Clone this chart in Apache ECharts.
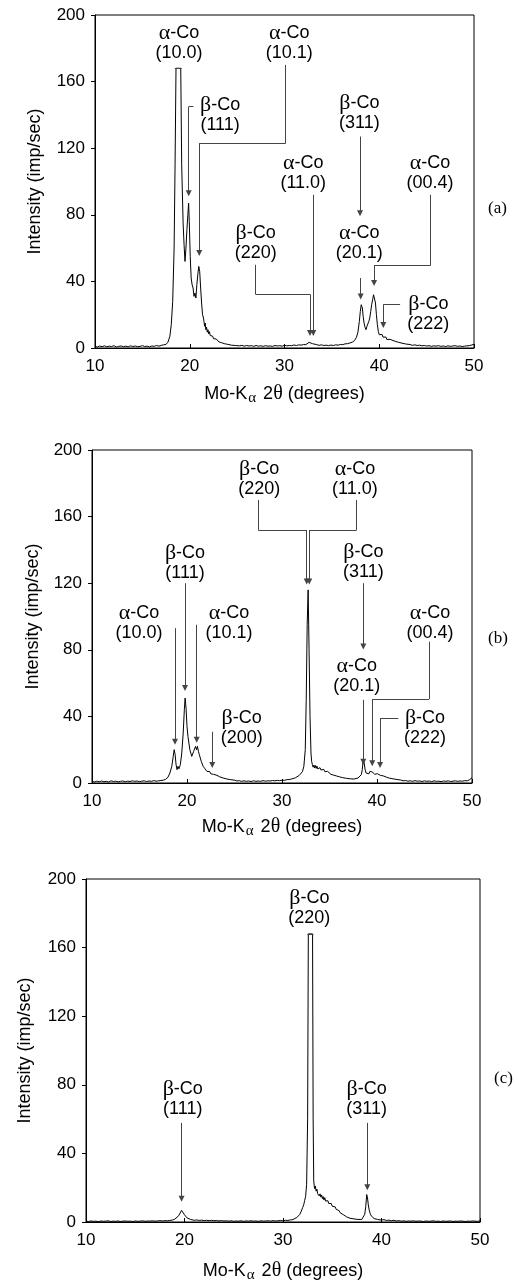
<!DOCTYPE html>
<html lang="en">

<head>
    <meta charset="UTF-8">
    <title>Co XRD patterns (a), (b), (c)</title>
    <script src="https://cdn.jsdelivr.net/npm/echarts@6.0.0/dist/echarts.min.js"></script>
    <style>
        html, body { margin: 0; padding: 0; background: #ffffff; }
        #chart { width: 519px; height: 1284px; }
    </style>
</head>

<body>
    <div id="chart"></div>

    <script>
        // ---- data: [2θ (deg), intensity (imp/sec)] ----
        // panel (a)
        const scanA = [
            [10, 1.0], [10.25, 0.6], [10.5, 1.2], [10.75, 0.8], [11, 1.3], [11.25, 0.7], [11.5, 1.1], [11.75, 0.9],
            [12, 1.4], [12.25, 0.6], [12.5, 1.0], [12.75, 1.2], [13, 0.8], [13.25, 1.1], [13.5, 0.7], [13.75, 1.3],
            [14, 0.9], [14.25, 1.2], [14.5, 0.8], [14.75, 1.0], [15, 1.4], [15.25, 0.9], [15.5, 1.1], [15.75, 0.7],
            [16, 1.2], [16.25, 1.0], [16.5, 1.5], [16.75, 1.1], [17, 1.6], [17.25, 1.9], [17.5, 2.2], [17.7, 3.5],
            [17.9, 7], [18.05, 14], [18.2, 28], [18.35, 60], [18.45, 110], [18.55, 168], [19.05, 168], [19.15, 110],
            [19.3, 75], [19.4, 62], [19.5, 52], [19.6, 60], [19.7, 71], [19.8, 80], [19.88, 87], [19.95, 76],
            [20.05, 55], [20.15, 42], [20.25, 38], [20.35, 36], [20.45, 31], [20.55, 33], [20.65, 30], [20.75, 38],
            [20.85, 44], [20.95, 49], [21.05, 46], [21.15, 36], [21.25, 27], [21.35, 20], [21.45, 18], [21.5, 16],
            [21.57, 13], [21.63, 15], [21.7, 11], [21.77, 12.5], [21.85, 9.5], [21.92, 11], [22.0, 8.5], [22.08, 9.8],
            [22.16, 7.5], [22.25, 8.2], [22.33, 6.4], [22.42, 7.1], [22.5, 5.6], [22.6, 6.3], [22.7, 4.8], [22.8, 5.4],
            [22.9, 4.2], [23.0, 4.6], [23.1, 3.6], [23.2, 4.1], [23.35, 3.2], [23.5, 3.5], [23.65, 2.6], [23.8, 3.0],
            [24.0, 2.2], [24.2, 2.5], [24.4, 1.7], [24.6, 2.0], [24.8, 1.5], [25.0, 1.7], [25.25, 1.3], [25.5, 1.6],
            [25.75, 1.1], [26, 1.5], [26.25, 1.2], [26.5, 1.4], [26.75, 1.0], [27, 1.5], [27.25, 1.1], [27.5, 1.3],
            [27.75, 1.0], [28, 1.4], [28.25, 1.1], [28.5, 1.2], [28.75, 1.0], [29, 1.5], [29.25, 1.2], [29.5, 1.4],
            [29.75, 1.1], [30, 1.6], [30.25, 1.3], [30.5, 1.5], [30.75, 1.4], [31, 1.8], [31.25, 1.5], [31.5, 1.9],
            [31.75, 1.7], [32, 2.1], [32.25, 2.0], [32.45, 2.8], [32.6, 3.4], [32.7, 4.2], [32.8, 3.2], [32.95, 2.6],
            [33.15, 2.2], [33.4, 2.0], [33.65, 1.6], [33.9, 1.9], [34.15, 1.5], [34.4, 1.7], [34.65, 1.4], [34.9, 1.8],
            [35.15, 1.5], [35.4, 1.9], [35.65, 1.7], [35.9, 2.1], [36.15, 2.0], [36.4, 2.5], [36.65, 2.6], [36.9, 3.0],
            [37.15, 3.5], [37.4, 4.5], [37.6, 6.5], [37.75, 9.5], [37.9, 16], [38.0, 22], [38.1, 26], [38.15, 27],
            [38.22, 24], [38.3, 19], [38.4, 15], [38.5, 12.5], [38.6, 11], [38.7, 13], [38.8, 12], [38.9, 16],
            [39.0, 18], [39.1, 22], [39.2, 26], [39.3, 29], [39.4, 32], [39.45, 33], [39.52, 31], [39.6, 27],
            [39.7, 20], [39.8, 14], [39.9, 10], [40.0, 8], [40.1, 9], [40.2, 7.2], [40.3, 8.1], [40.4, 6.5],
            [40.5, 7.3], [40.6, 5.8], [40.7, 6.6], [40.8, 5.1], [40.9, 5.8], [41.0, 4.6], [41.15, 5.2], [41.3, 4.0],
            [41.45, 4.5], [41.6, 3.5], [41.75, 3.9], [41.9, 3.0], [42.05, 3.4], [42.2, 2.6], [42.4, 2.9], [42.6, 2.2],
            [42.8, 2.4], [43.0, 1.8], [43.25, 2.1], [43.5, 1.6], [43.75, 1.9], [44, 1.5], [44.25, 1.7], [44.5, 1.3],
            [44.75, 1.5], [45, 1.2], [45.25, 1.4], [45.5, 1.0], [45.75, 1.3], [46, 1.1], [46.25, 1.4], [46.5, 1.0],
            [46.75, 1.2], [47, 0.9], [47.25, 1.3], [47.5, 1.0], [47.75, 1.2], [48, 1.4], [48.25, 1.0], [48.5, 1.2],
            [48.75, 0.9], [49, 1.1], [49.25, 1.3], [49.5, 1.4], [49.75, 1.8], [50, 2.2]
        ];

        // panel (b)
        const scanB = [
            [10, 1.0], [10.25, 0.6], [10.5, 1.1], [10.75, 0.7], [11, 1.2], [11.25, 0.8], [11.5, 1.0], [11.75, 0.6],
            [12, 1.3], [12.25, 0.9], [12.5, 1.1], [12.75, 0.7], [13, 1.0], [13.25, 1.2], [13.5, 0.8], [13.75, 1.1],
            [14, 0.9], [14.25, 1.3], [14.5, 1.0], [14.75, 1.2], [15, 0.8], [15.25, 1.1], [15.5, 1.3], [15.75, 0.9],
            [16, 1.2], [16.25, 1.0], [16.5, 1.4], [16.75, 1.1], [17, 1.3], [17.25, 1.5], [17.5, 1.7], [17.75, 2.2],
            [18.0, 3.5], [18.2, 6], [18.4, 10], [18.55, 16], [18.65, 20], [18.75, 17], [18.85, 11], [18.95, 8],
            [19.05, 10], [19.15, 8.5], [19.3, 11], [19.45, 18], [19.6, 30], [19.72, 44], [19.8, 51], [19.9, 45],
            [20.0, 34], [20.1, 28], [20.2, 24], [20.3, 20], [20.4, 18], [20.5, 16], [20.6, 17], [20.7, 19],
            [20.8, 20], [20.9, 22], [21.0, 20], [21.1, 22], [21.2, 19], [21.3, 17], [21.4, 15], [21.5, 13],
            [21.6, 12], [21.7, 10], [21.8, 11], [21.9, 8.5], [22.0, 9], [22.1, 7], [22.2, 8], [22.3, 6.2],
            [22.4, 6.8], [22.5, 5.5], [22.6, 5.8], [22.7, 6.4], [22.8, 5.2], [22.9, 5.8], [23.0, 4.3], [23.15, 4.6],
            [23.3, 3.4], [23.45, 3.7], [23.6, 2.8], [23.8, 3.0], [24.0, 2.2], [24.2, 2.4], [24.4, 1.7], [24.6, 2.0],
            [24.8, 1.5], [25.0, 1.7], [25.25, 1.2], [25.5, 1.4], [25.75, 1.0], [26, 1.3], [26.25, 1.0], [26.5, 1.2],
            [26.75, 0.9], [27, 1.3], [27.25, 1.0], [27.5, 1.2], [27.75, 1.0], [28, 1.4], [28.25, 1.1], [28.5, 1.3],
            [28.75, 1.2], [29, 1.5], [29.25, 1.3], [29.5, 1.6], [29.75, 1.4], [30, 1.7], [30.25, 1.6], [30.5, 2.0],
            [30.75, 2.1], [31, 2.4], [31.2, 2.8], [31.4, 3.1], [31.6, 3.8], [31.8, 4.5], [32.0, 5.4], [32.15, 6.8],
            [32.3, 10], [32.45, 20], [32.55, 50], [32.65, 95], [32.75, 116], [32.85, 80], [32.95, 40], [33.05, 18],
            [33.12, 13], [33.2, 11], [33.28, 9.5], [33.36, 10.8], [33.44, 9], [33.52, 10.5], [33.6, 8.8], [33.68, 10.2],
            [33.76, 8.5], [33.84, 9.6], [33.92, 8], [34.0, 9.2], [34.1, 7.8], [34.2, 8.7], [34.3, 7.2], [34.4, 8.2],
            [34.5, 6.8], [34.6, 7.6], [34.7, 6.4], [34.8, 7.0], [34.9, 5.8], [35.0, 6.5], [35.15, 5.2], [35.3, 5.8],
            [35.45, 4.7], [35.6, 5.2], [35.75, 4.2], [35.9, 4.6], [36.05, 3.7], [36.2, 4.0], [36.4, 3.2], [36.6, 3.5],
            [36.8, 2.8], [37.0, 3.0], [37.2, 2.5], [37.4, 2.7], [37.6, 2.4], [37.8, 2.8], [38.0, 3.0], [38.2, 3.6],
            [38.35, 5], [38.45, 8], [38.55, 14], [38.65, 12], [38.75, 8], [38.85, 6], [38.95, 5], [39.05, 6.2],
            [39.15, 5.5], [39.25, 7.0], [39.35, 6.4], [39.45, 7.5], [39.55, 6.5], [39.65, 6.8], [39.75, 5.2], [39.85, 5.8],
            [39.95, 4.8], [40.05, 5.6], [40.15, 5.0], [40.25, 5.6], [40.35, 4.6], [40.45, 4.9], [40.55, 3.8], [40.7, 4.2],
            [40.85, 3.2], [41.0, 3.5], [41.15, 2.6], [41.3, 2.9], [41.5, 2.2], [41.7, 2.5], [41.9, 1.8], [42.1, 2.1],
            [42.3, 1.5], [42.5, 1.8], [42.75, 1.3], [43, 1.5], [43.25, 1.1], [43.5, 1.3], [43.75, 1.0], [44, 1.4],
            [44.25, 1.1], [44.5, 1.2], [44.75, 0.9], [45, 1.3], [45.25, 1.0], [45.5, 1.2], [45.75, 0.8], [46, 1.3],
            [46.25, 1.0], [46.5, 1.1], [46.75, 0.8], [47, 1.2], [47.25, 1.0], [47.5, 1.3], [47.75, 0.9], [48, 1.1],
            [48.25, 1.3], [48.5, 1.0], [48.75, 1.2], [49, 1.1], [49.25, 1.4], [49.5, 1.3], [49.75, 2.0], [50, 3.2]
        ];

        // panel (c)
        const scanC = [
            [10, 0.5], [10.25, 0.3], [10.5, 0.6], [10.75, 0.4], [11, 0.5], [11.25, 0.2], [11.5, 0.6], [11.75, 0.4],
            [12, 0.5], [12.25, 0.7], [12.5, 0.3], [12.75, 0.5], [13, 0.4], [13.25, 0.6], [13.5, 0.3], [13.75, 0.5],
            [14, 0.6], [14.25, 0.4], [14.5, 0.5], [14.75, 0.3], [15, 0.6], [15.25, 0.4], [15.5, 0.5], [15.75, 0.7],
            [16, 0.4], [16.25, 0.6], [16.5, 0.5], [16.75, 0.7], [17, 0.5], [17.25, 0.6], [17.5, 0.8], [17.75, 0.6],
            [18, 0.8], [18.25, 0.7], [18.5, 0.9], [18.75, 1.1], [19.0, 1.6], [19.2, 2.4], [19.4, 3.6], [19.55, 5.2],
            [19.7, 6.8], [19.8, 7.2], [19.9, 5.8], [20.0, 4.2], [20.1, 3.2], [20.25, 2.4], [20.4, 1.9], [20.6, 1.5],
            [20.8, 1.3], [21.0, 1.0], [21.25, 1.2], [21.5, 0.9], [21.75, 1.1], [22, 0.8], [22.25, 1.0], [22.5, 0.8],
            [22.75, 1.0], [23, 0.7], [23.25, 0.9], [23.5, 0.6], [23.75, 0.8], [24, 0.6], [24.25, 0.7], [24.5, 0.5],
            [24.75, 0.7], [25, 0.4], [25.25, 0.6], [25.5, 0.5], [25.75, 0.7], [26, 0.4], [26.25, 0.6], [26.5, 0.5],
            [26.75, 0.7], [27, 0.5], [27.25, 0.6], [27.5, 0.4], [27.75, 0.7], [28, 0.5], [28.25, 0.6], [28.5, 0.7],
            [28.75, 0.5], [29, 0.8], [29.25, 0.6], [29.5, 0.7], [29.75, 0.9], [30, 0.7], [30.25, 1.0], [30.5, 0.9],
            [30.75, 1.2], [31.0, 1.4], [31.2, 2.0], [31.4, 2.6], [31.55, 3.4], [31.7, 4.4], [31.85, 6.2], [32.0, 8.5],
            [32.1, 10], [32.2, 12.5], [32.3, 15], [32.4, 22], [32.5, 60], [32.57, 168], [33.0, 168], [33.06, 60],
            [33.12, 24], [33.2, 19.5], [33.28, 21], [33.36, 18], [33.44, 19.2], [33.52, 16.5], [33.6, 17.5], [33.68, 15.2],
            [33.76, 16.4], [33.84, 14.5], [33.92, 15.8], [34.0, 13.6], [34.08, 14.8], [34.16, 12.8], [34.24, 14.2], [34.32, 12.2],
            [34.4, 13.2], [34.48, 11.5], [34.56, 12.4], [34.64, 10.8], [34.72, 11.6], [34.8, 10], [34.9, 10.8], [35.0, 9.2],
            [35.1, 9.8], [35.2, 8.4], [35.3, 8.8], [35.4, 7.4], [35.5, 7.8], [35.6, 6.4], [35.7, 6.6], [35.8, 5.4],
            [35.9, 5.6], [36.0, 4.4], [36.15, 4.2], [36.3, 3.3], [36.45, 3.0], [36.6, 2.4], [36.8, 2.2], [37.0, 1.6],
            [37.2, 1.8], [37.4, 1.3], [37.6, 1.5], [37.8, 1.2], [38.0, 1.5], [38.15, 2.2], [38.3, 4.5], [38.4, 9],
            [38.5, 16], [38.58, 14], [38.66, 10], [38.75, 7], [38.85, 5], [38.95, 3.6], [39.1, 2.6], [39.25, 2.0],
            [39.4, 2.2], [39.6, 1.5], [39.8, 1.7], [40.0, 1.1], [40.25, 1.4], [40.5, 0.9], [40.75, 1.1], [41, 0.7],
            [41.25, 1.0], [41.5, 0.6], [41.75, 0.8], [42, 0.5], [42.25, 0.7], [42.5, 0.4], [42.75, 0.6], [43, 0.5],
            [43.25, 0.7], [43.5, 0.4], [43.75, 0.6], [44, 0.5], [44.25, 0.3], [44.5, 0.6], [44.75, 0.4], [45, 0.5],
            [45.25, 0.7], [45.5, 0.4], [45.75, 0.5], [46, 0.3], [46.25, 0.6], [46.5, 0.4], [46.75, 0.5], [47, 0.6],
            [47.25, 0.3], [47.5, 0.5], [47.75, 0.4], [48, 0.6], [48.25, 0.5], [48.5, 0.3], [48.75, 0.5], [49, 0.4],
            [49.25, 0.6], [49.5, 0.5], [49.75, 0.4], [50, 0.6]
        ];

        // axis ticks
        const angleTicks = [10, 20, 30, 40, 50];
        const countTicks = [0, 40, 80, 120, 160, 200];

        // peak labels: [2θ, intensity, phase letter, indices]
        const peaksA = [
            [18.87, 183, 'α', '(10.0)'], [23.2, 140, 'β', '(111)'], [30.5, 183, 'α', '(10.1)'],
            [31.98, 105, 'α', '(11.0)'], [26.96, 63, 'β', '(220)'], [37.9, 141, 'β', '(311)'],
            [37.9, 63, 'α', '(20.1)'], [45.36, 105, 'α', '(00.4)'], [45.18, 20.4, 'β', '(222)']
        ];
        const peaksB = [
            [14.95, 96, 'α', '(10.0)'], [19.79, 132, 'β', '(111)'], [24.42, 96, 'α', '(10.1)'],
            [25.76, 33, 'β', '(200)'], [27.6, 182.6, 'β', '(220)'], [37.68, 182.6, 'α', '(11.0)'],
            [38.56, 132.7, 'β', '(311)'], [37.86, 64, 'α', '(20.1)'], [45.58, 96, 'α', '(00.4)'],
            [45.05, 33, 'β', '(222)']
        ];
        const peaksC = [
            [32.67, 183, 'β', '(220)'], [19.82, 71.7, 'β', '(111)'], [38.49, 71.7, 'β', '(311)']
        ];

        // leader arrows (path in data space, arrowhead at the last point)
        const arrowsA = [
            [[20.4, 145], [19.89, 145], [19.89, 93]],
            [[30.13, 170], [30.13, 123], [21.0, 123], [21.0, 57]],
            [[33.04, 92], [33.04, 9]],
            [[26.96, 50], [26.96, 32.2], [32.69, 32.2], [32.69, 9]],
            [[37.97, 127], [37.97, 81]],
            [[38.04, 42], [38.04, 31]],
            [[45.36, 92], [45.36, 49.4], [39.45, 49.4], [39.45, 39]],
            [[42.2, 26.2], [40.43, 26.2], [40.43, 13.8]]
        ];
        const arrowsB = [
            [[18.74, 93], [18.74, 24.8]],
            [[19.79, 120], [19.79, 57]],
            [[21.02, 95], [21.02, 26]],
            [[22.66, 30.8], [22.66, 10.8]],
            [[27.5, 170], [27.5, 152], [32.6, 152], [32.6, 121]],
            [[37.86, 170], [37.86, 152], [32.87, 152], [32.87, 121]],
            [[38.56, 120], [38.56, 82]],
            [[38.56, 50], [38.56, 12.8]],
            [[45.47, 84.9], [45.47, 50.3], [39.5, 50.3], [39.5, 11.8]],
            [[42.24, 38.8], [40.32, 38.8], [40.32, 10.8]]
        ];
        const arrowsC = [
            [[19.7, 57.8], [19.7, 13.5]],
            [[38.56, 57.8], [38.56, 20.2]]
        ];
        // caps on the clipped (off-scale) peaks
        const capsA = [[[18.42, 168], [19.15, 168]]];
        const capsC = [[[32.47, 168], [33.1, 168]]];

        const chartDom = document.getElementById('chart');
        const myChart = echarts.init(chartDom, null, { renderer: 'canvas' });

        const sans = '"Liberation Sans", Arial, Helvetica, sans-serif';
        const serif = '"Liberation Serif", "Times New Roman", serif';

        const grids = [
            { left: 95, top: 15, width: 379, height: 333 },
            { left: 92, top: 450, width: 380, height: 333 },
            { left: 86, top: 879, width: 394, height: 346 }
        ];
        const nameGapsX = [34, 32, 37];
        const nameGapsY = [51, 50, 52];

        // split each leader path into plain segments + a final arrowed segment
        function leaderBodies(paths) {
            const out = [];
            paths.forEach(function (p) {
                for (let k = 0; k < p.length - 2; k++) out.push({ coords: [p[k], p[k + 1]] });
            });
            return out;
        }
        function leaderTips(paths) {
            return paths.map(function (p) {
                return { coords: [p[p.length - 2], p[p.length - 1]] };
            });
        }

        const xAxes = grids.map(function (g, i) {
            return {
                type: 'value', gridIndex: i,
                min: angleTicks[0], max: angleTicks[angleTicks.length - 1],
                interval: angleTicks[1] - angleTicks[0],
                name: 'Mo-K{sub|α} 2{g|θ} (degrees)',
                nameLocation: 'middle', nameGap: nameGapsX[i],
                nameTextStyle: {
                    fontFamily: sans, fontSize: 18, color: '#000',
                    rich: {
                        sub: { fontFamily: serif, fontSize: 15, color: '#000', padding: [9, 2, 0, 1] },
                        g: { fontFamily: serif, fontSize: 20, color: '#000' }
                    }
                },
                axisLine: { show: true, lineStyle: { color: '#000', width: 1 } },
                axisTick: { show: true, inside: true, length: 4, lineStyle: { color: '#000' } },
                axisLabel: { fontFamily: sans, fontSize: 17, color: '#000', margin: 10 },
                splitLine: { show: false }
            };
        });

        const yAxes = grids.map(function (g, i) {
            return {
                type: 'value', gridIndex: i,
                min: countTicks[0], max: countTicks[countTicks.length - 1],
                interval: countTicks[1] - countTicks[0],
                name: 'Intensity (imp/sec)',
                nameLocation: 'middle', nameGap: nameGapsY[i],
                nameTextStyle: { fontFamily: sans, fontSize: 18, color: '#000' },
                axisLine: { show: true, lineStyle: { color: '#000', width: 1 } },
                axisTick: { show: true, inside: false, length: 4, lineStyle: { color: '#000' } },
                axisLabel: { fontFamily: sans, fontSize: 17, color: '#000', margin: 10 },
                splitLine: { show: false }
            };
        });

        const traces = [scanA, scanB, scanC];
        const peakSets = [peaksA, peaksB, peaksC];
        const arrowSets = [arrowsA, arrowsB, arrowsC];
        const capSets = [capsA, [], capsC];

        const series = [];
        traces.forEach(function (data, i) {
            series.push({
                name: 'pattern ' + i, type: 'line',
                xAxisIndex: i, yAxisIndex: i,
                data: data, showSymbol: false, smooth: false,
                lineStyle: { color: '#000', width: 1 },
                z: 3
            });
            const bodies = leaderBodies(arrowSets[i]).concat(capSets[i].map(function (c) { return { coords: c }; }));
            series.push({
                type: 'lines', coordinateSystem: 'cartesian2d',
                xAxisIndex: i, yAxisIndex: i,
                symbol: 'none',
                lineStyle: { color: '#444', width: 1, opacity: 1, curveness: 0 },
                data: bodies,
                z: 4
            });
            series.push({
                type: 'lines', coordinateSystem: 'cartesian2d',
                xAxisIndex: i, yAxisIndex: i,
                symbol: ['none', 'triangle'], symbolSize: 6,
                lineStyle: { color: '#444', width: 1, opacity: 1, curveness: 0 },
                itemStyle: { color: '#111' },
                data: leaderTips(arrowSets[i]),
                z: 4
            });
            series.push({
                type: 'scatter', xAxisIndex: i, yAxisIndex: i,
                symbolSize: 0, silent: true,
                itemStyle: { opacity: 1 },
                data: peakSets[i].map(function (p) {
                    return { value: [p[0], p[1]], phase: p[2], hkl: p[3] };
                }),
                label: {
                    show: true, position: 'inside',
                    fontFamily: sans, fontSize: 18, color: '#000', lineHeight: 20,
                    formatter: function (params) {
                        return '{g|' + params.data.phase + '}-Co\n' + params.data.hkl;
                    },
                    rich: {
                        g: { fontFamily: serif, fontSize: 22, color: '#000', lineHeight: 20 }
                    }
                },
                z: 5
            });
        });

        const option = {
            backgroundColor: '#ffffff',
            animation: false,
            grid: grids.map(function (g) {
                return Object.assign({ show: true, borderColor: '#000', borderWidth: 1, backgroundColor: 'transparent' }, g);
            }),
            xAxis: xAxes,
            yAxis: yAxes,
            series: series,
            graphic: [
                { type: 'text', left: 488, top: 200, style: { text: '(a)', font: '17px ' + serif, fill: '#000' } },
                { type: 'text', left: 488, top: 630, style: { text: '(b)', font: '17px ' + serif, fill: '#000' } },
                { type: 'text', left: 494, top: 1070, style: { text: '(c)', font: '17px ' + serif, fill: '#000' } }
            ]
        };

        myChart.setOption(option);
    </script>
</body>

</html>
